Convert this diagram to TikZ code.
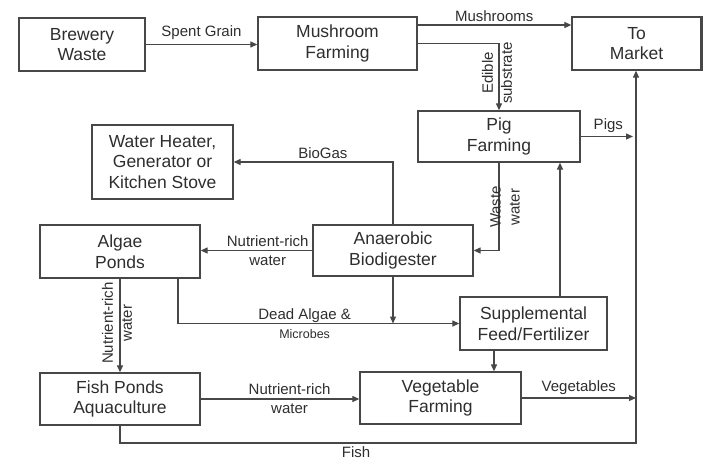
\documentclass[tikz,border=0pt]{standalone}
\usepackage{fontspec}
\setmainfont{Liberation Sans}
\usetikzlibrary{arrows.meta}
\definecolor{txt}{HTML}{2E2E2E}
\definecolor{ln}{HTML}{474747}
\tikzset{
  box/.style={draw=ln, line width=1.3pt, align=center, text=txt, inner sep=0pt,
    font=\fontsize{17.5}{20.5}\selectfont},
  arr/.style={draw=ln, line width=1.2pt, -{Triangle[length=7pt,width=6pt]}},
  lbl/.style={text=txt, font=\fontsize{15}{19}\selectfont, align=center, inner sep=1pt},
}
\begin{document}
\begin{tikzpicture}[x=1pt,y=-1pt]
\useasboundingbox (0,0) rectangle (708,465);
% boxes
\node[box, minimum width=126pt, minimum height=53pt] (bw) at (82,44.5) {Brewery\\Waste};
\node[box, minimum width=159pt, minimum height=53pt] (mf) at (337.5,43.5) {Mushroom\\Farming};
\node[box, minimum width=129pt, minimum height=53pt] (tm) at (636.5,43.5) {To\\Market};
\draw[ln, line width=2.2pt] (tm.north east) -- (tm.south east);
\node[box, minimum width=162pt, minimum height=51pt] (pf) at (499,136.5) {Pig\\Farming};
\node[box, minimum width=141pt, minimum height=74pt] (wh) at (162.5,162) {Water Heater,\\Generator or\\Kitchen Stove};
\node[box, minimum width=160pt, minimum height=53pt] (ap) at (120,251.5) {Algae\\Ponds};
\node[box, minimum width=160pt, minimum height=51pt] (ab) at (393,250.5) {Anaerobic\\Biodigester};
\node[box, minimum width=147pt, minimum height=53pt] (sf) at (533.5,323.5) {Supplemental\\Feed/Fertilizer};
\node[box, minimum width=160pt, minimum height=52pt] (fp) at (120,399) {Fish Ponds\\Aquaculture};
\node[box, minimum width=161pt, minimum height=52pt] (vf) at (440.5,398) {Vegetable\\Farming};
% helper coordinates
\coordinate (mush) at (417,25);
\coordinate (mk) at (636,443);
\path (sf.north) ++(26.5,0) coordinate (sfp);
\path (ap.south) ++(58,0) coordinate (apd);
\path (sf.south) ++(-39.5,0) coordinate (sfs);
% connectors
\draw[arr] (bw.east) -- (bw.east -| mf.west) node[lbl, midway, above=3pt] {Spent Grain};
\draw[arr] (mush) -- (mush -| tm.west) node[lbl, midway, above=2pt] {Mushrooms};
\draw[arr] (mf.east) -- (mf.east -| pf.north) -- (pf.north);
\node[lbl, rotate=90] (es) at (497,73) {Edible\\substrate};
\draw[arr, shorten >=3pt] (pf.east) -- (pf.east -| mk) node[lbl, midway, above=2pt] {Pigs};
\draw[arr] (fp.south) -- (fp.south |- mk) -- (mk) -- (mk |- tm.south);
\node[lbl, below=2pt] (fishl) at (356,443) {Fish};
\draw[arr] (pf.south) -- (pf.south |- ab.east) -- (ab.east);
\node[lbl, rotate=90] (wwl) at (505,207) {Waste\\water};
\draw[arr] (ab.north) -- (ab.north |- wh.east) -- (wh.east) node[lbl, pos=0.44, above=2pt] {BioGas};
\draw[arr] (ab.west) -- (ab.west -| ap.east) node[lbl, pos=0.4] {Nutrient-rich\\water};
\draw[arr] (sfp) -- (sfp |- pf.south);
\draw[arr] (ap.south) -- (fp.north);
\node[lbl, rotate=90] (nrl) at (117,323) {Nutrient-rich\\water};
\draw[arr] (apd) -- (apd |- sf.west) -- (sf.west)
  node[lbl, pos=0.45] {Dead Algae \&\\{\fontsize{12.5}{14}\selectfont Microbes}};
\draw[arr] (ab.south) -- (ab.south |- sf.west);
\draw[arr] (sfs) -- (sfs |- vf.north);
\draw[arr] (fp.east) -- (fp.east -| vf.west) node[lbl, pos=0.56] {Nutrient-rich\\water};
\draw[arr] (vf.east) -- (vf.east -| mk) node[lbl, midway, above=2pt] {Vegetables};
\end{tikzpicture}
\end{document}
